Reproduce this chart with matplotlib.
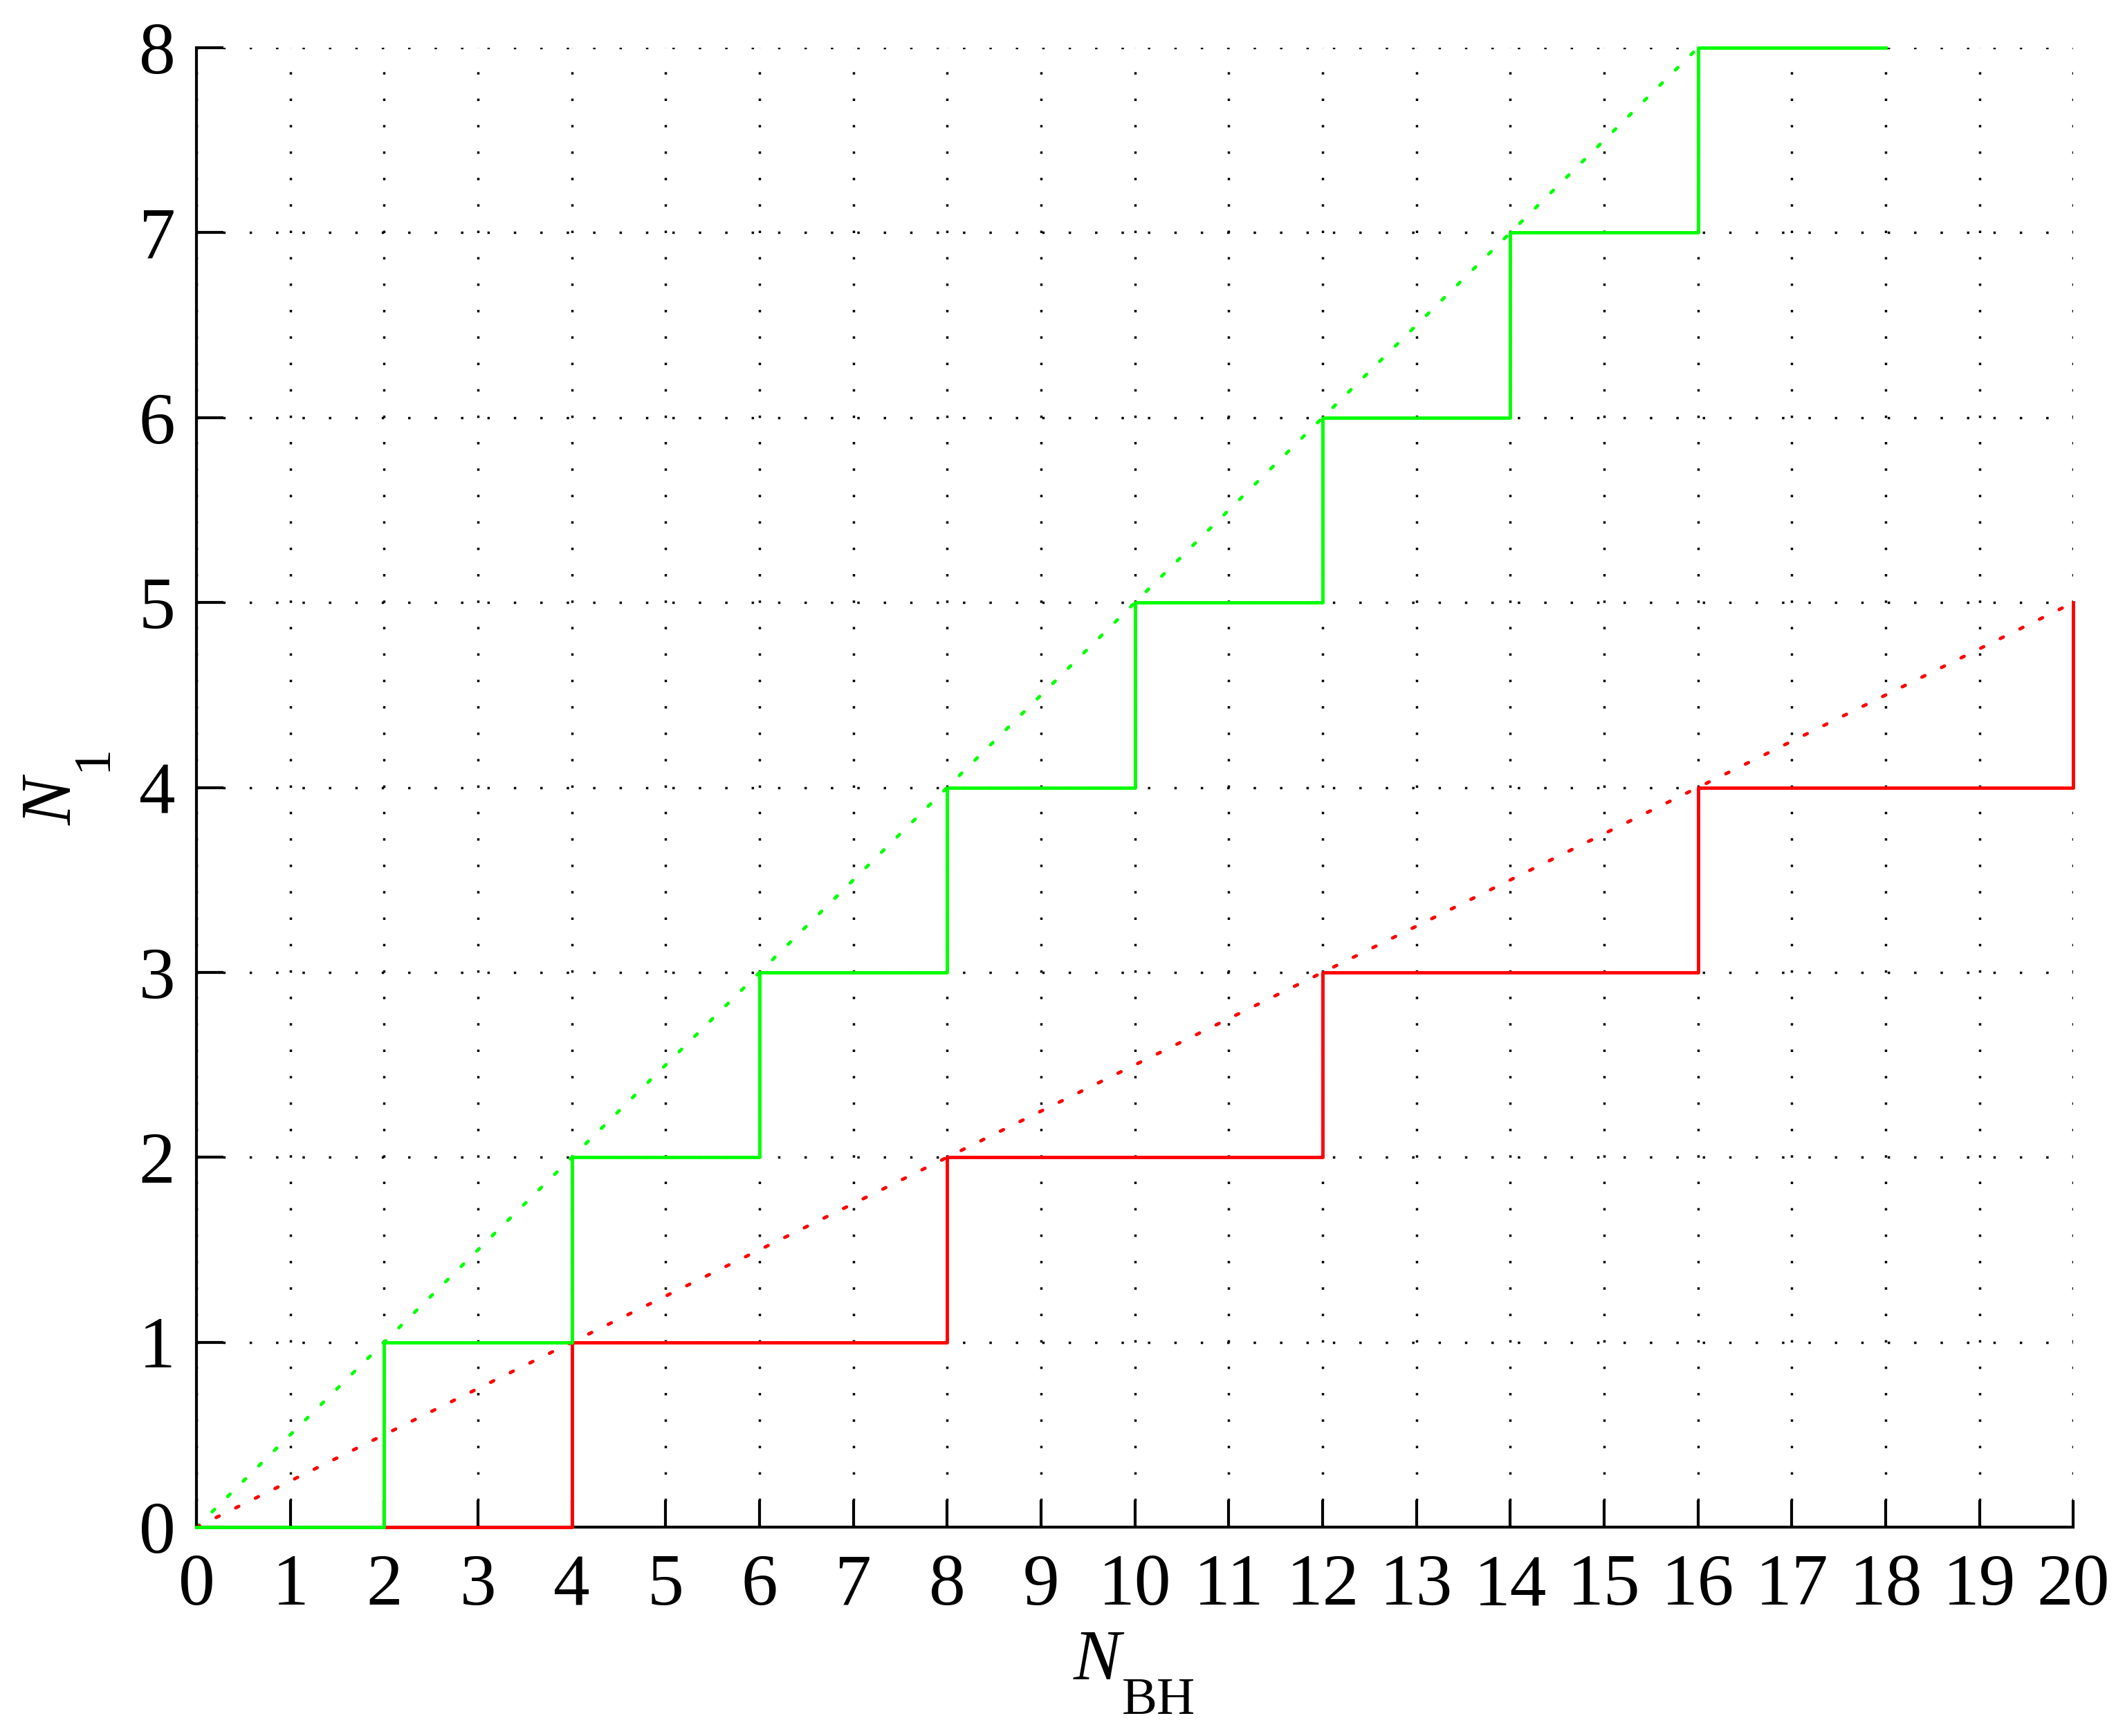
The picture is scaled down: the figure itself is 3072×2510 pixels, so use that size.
import matplotlib
matplotlib.use("Agg")
import matplotlib.pyplot as plt

# Data
green_x = [0, 2, 4, 6, 8, 10, 12, 14, 16, 18]
green_y = [0, 1, 2, 3, 4, 5, 6, 7, 8, 8]
red_x = [0, 4, 8, 12, 16, 20, 20]
red_y = [0, 1, 2, 3, 4, 5, 5]
green_ref_x = [0, 16]
green_ref_y = [0, 8]
red_ref_x = [0, 20]
red_ref_y = [0, 5]
xticks = list(range(0, 21))
yticks = list(range(0, 9))

plt.rcParams['font.family'] = ['Liberation Serif', 'DejaVu Serif']

W, H = 3072, 2510
fig = plt.figure(figsize=(W / 100, H / 100), dpi=100)
ax = fig.add_axes([0.0925, 0.1203, 0.9757 - 0.0925, 0.9725 - 0.1203])

GREEN = (0, 1, 0)
RED = (1, 0, 0)

ax.plot(green_ref_x, green_ref_y, color=GREEN, lw=3.5, linestyle=(0, (1, 5.5)),
        dash_capstyle='round', zorder=3)
ax.plot(red_ref_x, red_ref_y, color=RED, lw=3.5, linestyle=(0, (1, 5.5)),
        dash_capstyle='round', zorder=3)
ax.step(red_x, red_y, where='post', color=RED, lw=3.5, clip_on=False, zorder=5)
ax.step(green_x, green_y, where='post', color=GREEN, lw=3.5, clip_on=False, zorder=6)

ax.set_xlim(0, 20)
ax.set_ylim(0, 8)
ax.set_xticks(xticks)
ax.set_yticks(yticks)
ax.set_xticklabels([str(v) for v in xticks])
ax.set_yticklabels([str(v) for v in yticks])
ax.grid(True, color='black', linestyle=(0, (1, 10)), linewidth=2.5)
ax.set_axisbelow(True)

for s in ['top', 'right']:
    ax.spines[s].set_visible(False)
for s in ['left', 'bottom']:
    ax.spines[s].set_linewidth(3)
    ax.spines[s].set_zorder(4)
ax.tick_params(direction='in', length=28, width=3, labelsize=76)
ax.tick_params(axis='x', pad=28)
ax.tick_params(axis='y', pad=22)

# Axis labels: italic N with a large, low upright subscript
def px(x, y):
    return x / W, 1 - y / H

# x label: N_BH
fig.text(*px(1552, 2428), 'N', fontsize=74, fontstyle='italic',
         ha='left', va='baseline')
fig.text(*px(1622, 2478), 'BH', fontsize=55, ha='left', va='baseline')

# y label: N_1 (rotated)
fig.text(*px(103, 1193), 'N', fontsize=74, fontstyle='italic', rotation=90,
         rotation_mode='anchor', ha='left', va='baseline')
fig.text(*px(153, 1115), '1', fontsize=55, rotation=90,
         rotation_mode='anchor', ha='left', va='baseline')

fig.savefig('out.png', dpi=100)
